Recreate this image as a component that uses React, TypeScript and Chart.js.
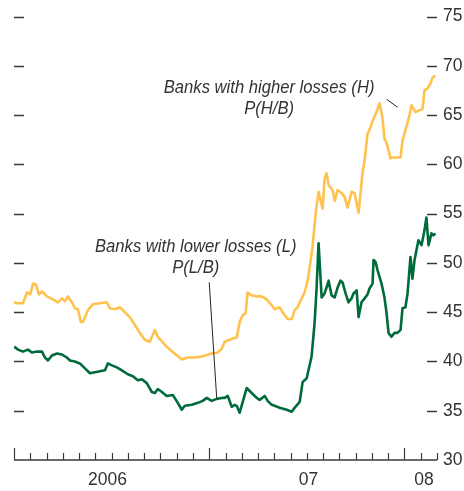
import React, { useEffect, useRef } from "react";
import { Chart, registerables } from "chart.js";

Chart.register(...registerables);

// x values are months since Jan 2006
const hMonths = [0,0.25,0.55,0.8,1.0,1.17,1.35,1.53,1.72,2.03,2.39,2.7,2.95,3.13,3.31,3.56,3.74,3.93,4.11,4.24,4.54,4.85,5.28,5.71,5.89,6.2,6.51,6.81,7.12,7.43,7.73,8.04,8.35,8.66,8.84,9.27,9.58,9.88,10.31,10.68,11.11,11.54,12.15,12.52,12.77,12.95,13.26,13.57,13.69,13.87,14.06,14.24,14.36,14.61,14.92,15.22,15.53,15.84,16.02,16.33,16.51,16.82,17.07,17.25,17.43,17.68,17.86,18.05,18.17,18.35,18.54,18.72,18.97,19.09,19.21,19.34,19.58,19.71,19.89,20.13,20.32,20.5,20.75,20.93,21.18,21.42,21.55,21.73,21.85,22.04,22.28,22.47,22.65,22.77,22.9,23.14,23.27,23.51,23.76,23.88,24.13,24.31,24.43,24.49,24.68,24.92,25.11,25.23,25.41,25.6,25.72,25.9];
const hValues = [46.0,45.9,45.9,47.0,46.8,47.9,47.8,46.8,47.1,46.6,46.3,46.0,46.4,46.1,46.6,46.0,45.4,45.3,44.0,44.0,45.2,45.8,45.9,46.0,45.4,45.3,45.5,45.0,44.5,43.7,42.9,42.2,42.0,43.2,42.5,41.7,41.2,40.8,40.2,40.4,40.4,40.5,40.8,40.9,41.3,42.0,42.2,42.4,42.4,44.0,44.7,44.9,47.0,46.7,46.6,46.6,46.3,45.7,45.3,45.5,45.0,44.3,44.3,45.2,45.5,46.4,47.0,48.2,49.5,51.6,55.0,57.2,55.5,58.6,59.1,57.9,57.4,56.3,57.4,57.1,56.7,55.6,57.2,57.1,55.1,59.1,60.4,63.1,63.5,64.4,65.3,66.2,64.7,62.6,62.2,60.6,60.7,60.7,60.7,62.4,63.9,65.0,66.0,65.8,65.3,65.5,65.6,67.5,67.7,68.2,68.8,69.0];

const lMonths = [0,0.25,0.55,0.86,1.1,1.41,1.72,1.9,2.09,2.33,2.64,2.95,3.25,3.44,3.74,4.05,4.36,4.67,4.97,5.28,5.59,5.77,6.02,6.32,6.63,7.0,7.31,7.61,7.86,8.16,8.47,8.66,8.84,9.09,9.39,9.76,10.07,10.31,10.5,10.93,11.3,11.6,11.85,12.15,12.46,12.77,12.95,13.14,13.38,13.57,13.69,13.87,14.06,14.3,14.61,14.92,15.1,15.41,15.59,15.84,16.02,16.33,16.76,17.07,17.25,17.56,17.74,17.99,18.29,18.48,18.6,18.72,18.91,19.09,19.21,19.34,19.52,19.71,19.89,20.07,20.2,20.38,20.56,20.75,20.87,21.06,21.18,21.36,21.55,21.73,21.85,22.04,22.1,22.22,22.34,22.59,22.77,22.9,23.02,23.2,23.39,23.57,23.76,23.88,24.06,24.19,24.37,24.49,24.62,24.74,24.86,25.05,25.11,25.23,25.35,25.48,25.66,25.78,25.9];
const lValues = [41.5,41.2,41.0,41.2,40.9,41.0,41.0,40.4,40.1,40.6,40.8,40.7,40.4,40.1,40.0,39.8,39.3,38.8,38.9,39.0,39.1,39.8,39.6,39.4,39.1,38.7,38.5,38.1,38.2,37.8,36.9,36.8,37.2,36.9,36.5,36.6,35.8,35.1,35.5,35.6,35.8,36.0,36.3,36.0,36.2,36.3,36.3,36.5,35.4,35.6,35.5,34.8,35.9,37.3,36.8,36.3,36.1,36.5,36.0,35.6,35.5,35.3,35.1,34.9,35.3,35.9,37.9,38.3,40.5,44.0,47.5,52.0,46.5,46.9,47.5,48.2,46.7,46.5,47.5,48.2,48.0,46.9,46.0,46.4,46.9,47.2,44.5,46.0,46.4,46.8,47.4,47.9,50.3,50.1,49.3,47.9,46.5,44.9,42.9,42.5,42.9,42.9,43.2,45.4,45.5,46.9,50.6,48.4,50.3,51.3,52.3,51.8,52.3,53.3,54.6,51.8,53.0,52.8,53.0];

const yTickValues = [30, 35, 40, 45, 50, 55, 60, 65, 70, 75];
const xTickLabels = ["2006", "07", "08"];
const xTickPositions = [5.75, 18.1, 25.2];
const monthTicks = Array.from({ length: 27 }, (_, i) => i);
const yearStartMonths = [0, 12, 24];

const annotations = [
  { lines: ["Banks with higher losses (H)", "P(H/B)"], x: 15.68, y: 67.8, leader: [[22.9, 66.6], [23.57, 65.8]] },
  { lines: ["Banks with lower losses (L)", "P(L/B)"], x: 11.17, y: 51.68, leader: [[12.0, 48.03], [12.46, 36.28]] },
];

const FONT = "'Liberation Sans', Arial, sans-serif";
const TEXT = "#333333";

const framePlugin = {
  id: "frame",
  afterDraw(chart: any) {
    const { ctx, chartArea, scales } = chart;
    const xs = scales.x;
    const ys = scales.y;
    ctx.save();
    ctx.strokeStyle = "#3a3a3a";
    ctx.lineWidth = 1.6;
    yTickValues.forEach((v) => {
      if (v === 30) return;
      const py = Math.round(ys.getPixelForValue(v)) + 0.5;
      ctx.beginPath();
      ctx.moveTo(chartArea.left, py);
      ctx.lineTo(chartArea.left + 10, py);
      ctx.moveTo(chartArea.right - 10, py);
      ctx.lineTo(chartArea.right, py);
      ctx.stroke();
    });
    const by = Math.round(chartArea.bottom);
    ctx.lineWidth = 1.5;
    ctx.beginPath();
    ctx.moveTo(chartArea.left, by);
    ctx.lineTo(chartArea.right, by);
    ctx.stroke();
    ctx.lineWidth = 1.2;
    monthTicks.forEach((m) => {
      const px = Math.round(xs.getPixelForValue(m)) + 0.5;
      const h = yearStartMonths.includes(m) ? 12 : 7;
      ctx.beginPath();
      ctx.moveTo(px, by);
      ctx.lineTo(px, by - h);
      ctx.stroke();
    });
    ctx.fillStyle = TEXT;
    ctx.font = `italic 19px ${FONT}`;
    ctx.textAlign = "center";
    ctx.textBaseline = "middle";
    annotations.forEach((a) => {
      const px = xs.getPixelForValue(a.x);
      const py = ys.getPixelForValue(a.y);
      a.lines.forEach((t, i) => {
        ctx.save();
        ctx.translate(px, py + i * 21);
        ctx.scale(0.875, 1);
        ctx.fillText(t, 0, 0);
        ctx.restore();
      });
      ctx.strokeStyle = "#222";
      ctx.lineWidth = 1;
      ctx.beginPath();
      ctx.moveTo(xs.getPixelForValue(a.leader[0][0]), ys.getPixelForValue(a.leader[0][1]));
      ctx.lineTo(xs.getPixelForValue(a.leader[1][0]), ys.getPixelForValue(a.leader[1][1]));
      ctx.stroke();
    });
    ctx.restore();
  },
};

export default function App() {
  const ref = useRef<HTMLCanvasElement>(null);
  useEffect(() => {
    if (!ref.current) return;
    const chart = new Chart(ref.current, {
      type: "line",
      data: {
        datasets: [
          {
            label: "P(H/B)",
            data: hMonths.map((m, i) => ({ x: m, y: hValues[i] })),
            borderColor: "#FFC24F",
            borderWidth: 2.6,
            pointRadius: 0,
            tension: 0,
            borderJoinStyle: "round",
          },
          {
            label: "P(L/B)",
            data: lMonths.map((m, i) => ({ x: m, y: lValues[i] })),
            borderColor: "#006B3A",
            borderWidth: 2.6,
            pointRadius: 0,
            tension: 0,
            borderJoinStyle: "round",
          },
        ],
      },
      options: {
        animation: false,
        responsive: false,
        layout: { padding: { left: 14, top: 16, right: 0, bottom: 0 } },
        plugins: { legend: { display: false }, tooltip: { enabled: false } },
        scales: {
          x: {
            type: "linear",
            min: 0,
            max: 26,
            grid: { display: false, drawTicks: false },
            border: { display: false },
            afterBuildTicks: (s: any) => {
              s.ticks = xTickPositions.map((v) => ({ value: v }));
            },
            afterFit: (s: any) => {
              s.height = 31;
            },
            ticks: {
              autoSkip: false,
              maxRotation: 0,
              padding: 10,
              color: TEXT,
              font: { family: FONT, size: 17.5 },
              callback: (v: any) => {
                const i = xTickPositions.indexOf(Number(v));
                return i >= 0 ? xTickLabels[i] : "";
              },
            },
          },
          y: {
            type: "linear",
            position: "right",
            min: 30,
            max: 75,
            grid: { display: false, drawTicks: false },
            border: { display: false },
            afterBuildTicks: (s: any) => {
              s.ticks = yTickValues.map((v) => ({ value: v }));
            },
            afterFit: (s: any) => {
              s.width = 27;
            },
            ticks: {
              padding: 6,
              color: TEXT,
              font: { family: FONT, size: 17.5 },
            },
          },
        },
      },
      plugins: [framePlugin],
    });
    return () => chart.destroy();
  }, []);
  return (
    <div style={{ position: "absolute", left: 0, top: 0, width: 464, height: 491, background: "#fff" }}>
      <canvas ref={ref} width={464} height={491} style={{ width: 464, height: 491 }} />
    </div>
  );
}
